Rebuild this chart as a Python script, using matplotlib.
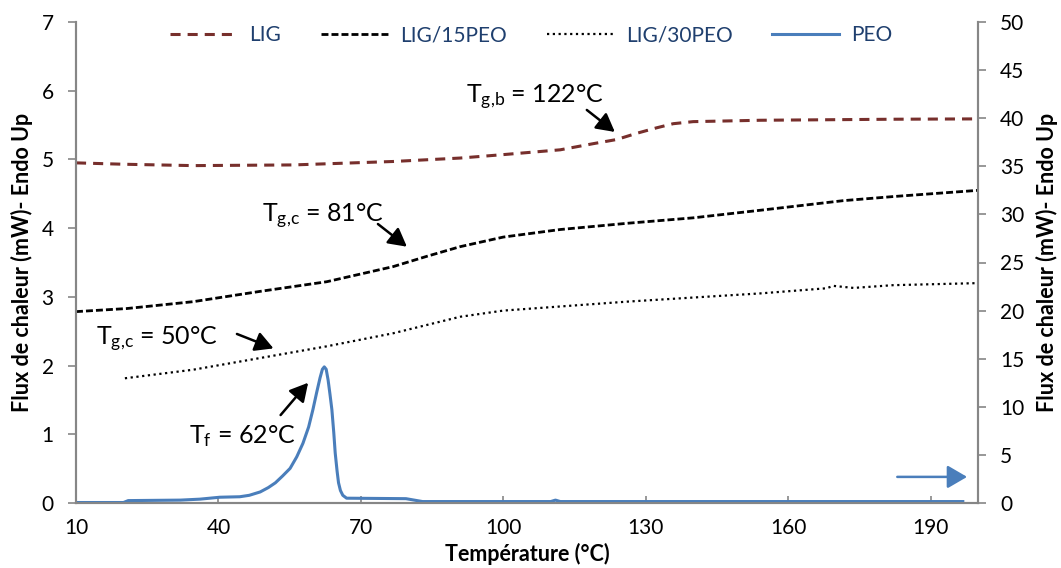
import matplotlib
matplotlib.use("Agg")
import matplotlib.pyplot as plt
from matplotlib.lines import Line2D

plt.rcParams['font.family'] = ['Lato', 'DejaVu Sans']
plt.rcParams['mathtext.fontset'] = 'custom'
plt.rcParams['mathtext.rm'] = 'Lato'
plt.rcParams['mathtext.it'] = 'Lato:italic'

# data (left axis in mW, PEO on the right axis)
lig_t = [10, 20, 34.7, 55.8, 76.8, 90.9, 100, 112, 119, 123.9, 128.1, 132.3, 135.8, 140, 154.1, 182.1, 200]
lig_q = [4.95, 4.93, 4.91, 4.92, 4.97, 5.02, 5.07, 5.14, 5.23, 5.29, 5.38, 5.46, 5.52, 5.55, 5.57, 5.585, 5.59]

lig15_t = [10, 20.7, 34.7, 48.8, 62.8, 76.8, 83.9, 90.9, 100, 112, 126, 140, 154.1, 171.6, 182.2, 200]
lig15_q = [2.785, 2.83, 2.93, 3.08, 3.22, 3.44, 3.59, 3.73, 3.87, 3.98, 4.07, 4.15, 4.26, 4.40, 4.46, 4.55]

lig30_t = [20.3, 34.7, 48.8, 62.8, 76.8, 90.9, 100, 112, 126, 140, 154.1, 168.1, 169.5, 173.8, 182.1, 200]
lig30_q = [1.815, 1.94, 2.11, 2.28, 2.47, 2.71, 2.80, 2.86, 2.93, 2.99, 3.05, 3.125, 3.16, 3.13, 3.17, 3.20]

peo_t = [10, 20, 21, 32, 36.1, 40.3, 44.5, 46.5, 48.8, 50.5, 52, 53.5, 55.1, 56.5, 57.8, 59, 59.9,
         60.7, 61.4, 61.9, 62.3, 62.7, 63.1, 63.5, 63.9, 64.3, 64.6, 65.0, 65.3, 65.7, 66.2, 67.0,
         79.5, 83, 110, 111, 112, 196.8]
peo_q = [0.05, 0.05, 0.25, 0.3, 0.4, 0.6, 0.65, 0.8, 1.15, 1.6, 2.1, 2.8, 3.6, 4.8, 6.2, 7.9, 9.7,
         11.5, 13.0, 13.9, 14.15, 13.9, 12.8, 11.3, 9.7, 7.3, 5.2, 3.3, 2.1, 1.3, 0.8, 0.5,
         0.45, 0.15, 0.15, 0.3, 0.15, 0.15]

x_ticks = [10, 40, 70, 100, 130, 160, 190]
left_ticks = [0, 1, 2, 3, 4, 5, 6, 7]
right_ticks = [0, 5, 10, 15, 20, 25, 30, 35, 40, 45, 50]

grey = '#868686'
red = '#772F2C'
blue = '#4A7EBB'
legend_col = '#1F3F6E'

fig = plt.figure(figsize=(10.61, 5.68), dpi=100)
ax = fig.add_axes([76/1061, 1 - 503/568, (978 - 76)/1061, (503 - 22)/568])
ax2 = ax.twinx()

st_lig = dict(color=red, lw=2.2, linestyle=(0, (3.3, 2.3)))
st_15 = dict(color='black', lw=2.0, linestyle=(0, (2.5, 1.1)))
st_30 = dict(color='black', lw=1.6, linestyle=(0, (1, 1.6)))
st_peo = dict(color=blue, lw=2.2)

ax.plot(lig_t, lig_q, **st_lig)
ax.plot(lig15_t, lig15_q, **st_15)
ax.plot(lig30_t, lig30_q, **st_30)
ax2.plot(peo_t, peo_q, **st_peo)

ax.set_xlim(10, 200)
ax.set_ylim(0, 7)
ax2.set_ylim(0, 50)
ax.set_xticks(x_ticks)
ax.set_yticks(left_ticks)
ax2.set_yticks(right_ticks)

for a in (ax, ax2):
    a.spines['top'].set_visible(False)
    for s in ('left', 'right', 'bottom'):
        a.spines[s].set_color(grey)
        a.spines[s].set_linewidth(1.5)
ax.tick_params(axis='x', direction='in', length=5, width=1.2, color=grey, labelsize=15, pad=11)
ax.tick_params(axis='y', direction='out', length=6, width=1.2, color=grey, labelsize=15, pad=10)
ax2.tick_params(axis='y', direction='out', length=6, width=1.2, color=grey, labelsize=15, pad=10)

lab = dict(fontsize=15.5, fontweight='bold')
ax.set_xlabel('Température (°C)', labelpad=3, **lab)
ax.set_ylabel('Flux de chaleur (mW)- Endo Up', labelpad=6, **lab)
ax2.set_ylabel('Flux de chaleur (mW)- Endo Up', rotation=90, labelpad=8, **lab)

# annotations
fs = 18
ax.text(92.2, 5.82, r'$\mathrm{T_{g{,}b}}$ = 122°C', fontsize=fs, ha='left', va='baseline')
ax.text(49.2, 4.09, r'$\mathrm{T_{g{,}c}}$ = 81°C', fontsize=fs, ha='left', va='baseline')
ax.text(14.2, 2.30, r'$\mathrm{T_{g{,}c}}$ = 50°C', fontsize=fs, ha='left', va='baseline')
ax.text(33.8, 0.87, r'$\mathrm{T_{f}}$ = 62°C', fontsize=fs, ha='left', va='baseline')

arw = dict(arrowstyle='-|>,head_length=0.55,head_width=0.3', color='black', lw=1.8,
           mutation_scale=20, shrinkA=0, shrinkB=0)
ax.annotate('', xy=(123.5, 5.40), xytext=(117.6, 5.72), arrowprops=arw)
ax.annotate('', xy=(79.7, 3.73), xytext=(73.6, 4.06), arrowprops=arw)
ax.annotate('', xy=(51.6, 2.25), xytext=(43.9, 2.46), arrowprops=arw)
ax.annotate('', xy=(58.9, 1.75), xytext=(53.1, 1.28), arrowprops=arw)
ax.annotate('', xy=(197.7, 0.38), xytext=(183.0, 0.38),
            arrowprops=dict(arrowstyle='-|>,head_length=0.6,head_width=0.35', color=blue, lw=1.8,
                            mutation_scale=20, shrinkA=0, shrinkB=0))

handles = [Line2D([], [], **st_lig), Line2D([], [], **st_15),
           Line2D([], [], **st_30), Line2D([], [], **st_peo)]
leg = fig.legend(handles, ['LIG', 'LIG/15PEO', 'LIG/30PEO', 'PEO'], ncol=4, frameon=False,
                 loc='center left', bbox_to_anchor=(160/1061, 1 - 35/568), fontsize=15,
                 handlelength=3.2, handletextpad=0.6, columnspacing=1.9, borderpad=0)
for t in leg.get_texts():
    t.set_color(legend_col)

fig.savefig('out.png', dpi=100)
